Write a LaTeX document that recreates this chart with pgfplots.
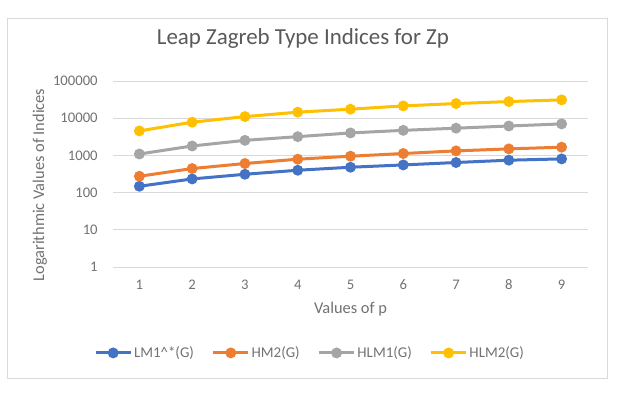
\documentclass[border=0pt]{standalone}
\usepackage{fontspec}
\setmainfont{Carlito}
\usepackage{pgfplots}
\pgfplotsset{compat=1.18}

\definecolor{xlblue}{HTML}{4472C4}
\definecolor{xlorange}{HTML}{ED7D31}
\definecolor{xlgray}{HTML}{A5A5A5}
\definecolor{xlyellow}{HTML}{FFC000}
\definecolor{xltext}{HTML}{595959}
\definecolor{xlgrid}{HTML}{D9D9D9}

\begin{document}
\begin{tikzpicture}[x=0.75pt,y=0.75pt]
% page = 640 x 401 px, 1px = 0.75pt
\path[fill=white] (0,0) rectangle (640,401);
\draw[xlgrid,line width=0.75pt] (7,401-19) rectangle (607,401-378);
\begin{axis}[
    at={(84.75pt,100.5pt)}, anchor=south west,
    scale only axis,
    width=356.25pt, height=139.5pt,
    ymode=log,
    xmin=0.5, xmax=9.5,
    ymin=1, ymax=100000,
    xtick={1,...,9},
    ytick={1,10,100,1000,10000,100000},
    yticklabels={1,10,100,1000,10000,100000},
    /pgf/number format/assume math mode=true,
    minor ytick={},
    axis line style={draw=none},
    tick style={draw=none},
    major tick length=0pt, minor tick length=0pt,
    ymajorgrids,
    grid style={xlgrid,line width=0.75pt},
    tick label style={font=\fontsize{11}{13}\selectfont,text=xltext!85},
    yticklabel style={xshift=-8pt},
    xticklabel style={yshift=-6pt},
    title={Leap Zagreb Type Indices for Zp},
    title style={at={(axis description cs:0.4,1.183)},anchor=center,
        font=\fontsize{17.2}{20}\selectfont,text=xltext},
    xlabel={Values of p},
    ylabel={Logarithmic Values of Indices},
    every axis x label/.style={at={(axis description cs:0.5,-0.228)},anchor=center,
        font=\fontsize{12.3}{14}\selectfont,text=xltext!85},
    every axis y label/.style={at={(axis description cs:-0.154,0.441)},anchor=center,
        rotate=90,font=\fontsize{12.3}{14}\selectfont,text=xltext!85},
    every axis plot/.append style={line width=2.25pt,mark=*,mark size=2.9pt},
    legend columns=4,
    legend style={draw=none,fill=none,at={(axis description cs:0.415,-0.462)},anchor=center,
        font=\fontsize{11.2}{13}\selectfont,text=xltext!85,
        /tikz/every even column/.append style={column sep=12pt},
        nodes={inner sep=1.5pt}},
    legend image code/.code={
        \draw[#1,mark repeat=2,mark phase=2] plot coordinates {(0pt,0pt)(13pt,0pt)(26pt,0pt)};},
    clip=false,
]
\addplot[color=xlblue,mark options={fill=xlblue}] coordinates {
    (1,148) (2,233) (3,311) (4,399) (5,481) (6,554) (7,644) (8,743) (9,805)};
\addlegendentry{LM1\^{}*(G)}
\addplot[color=xlorange,mark options={fill=xlorange}] coordinates {
    (1,275) (2,443) (3,605) (4,791) (5,951) (6,1124) (7,1322) (8,1496) (9,1663)};
\addlegendentry{HM2(G)}
\addplot[color=xlgray,mark options={fill=xlgray}] coordinates {
    (1,1090) (2,1792) (3,2535) (4,3190) (5,4015) (6,4718) (7,5390) (8,6170) (9,7020)};
\addlegendentry{HLM1(G)}
\addplot[color=xlyellow,mark options={fill=xlyellow}] coordinates {
    (1,4550) (2,7800) (3,11040) (4,14520) (5,17500) (6,21400) (7,24760) (8,28000) (9,31100)};
\addlegendentry{HLM2(G)}
\end{axis}
\end{tikzpicture}
\end{document}
